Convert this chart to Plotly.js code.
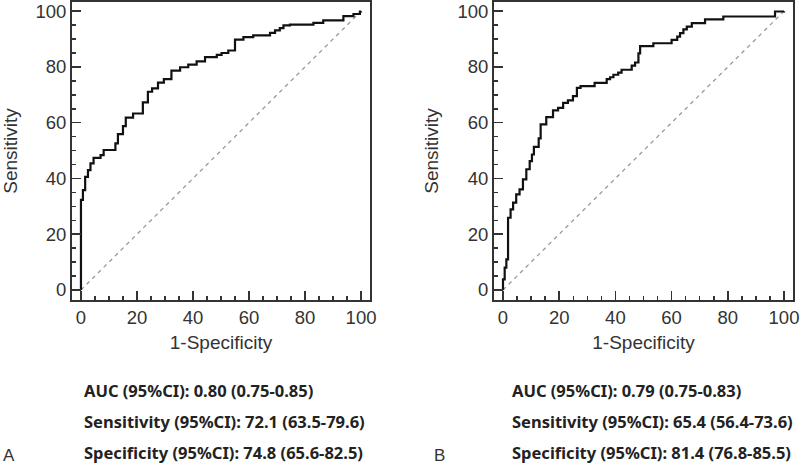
<!DOCTYPE html>
<html>
<head>
<meta charset="utf-8">
<script src="https://cdn.plot.ly/plotly-3.0.1.min.js"></script>
<style>html,body{margin:0;padding:0;background:#fff;}#chart{width:800px;height:467px;}</style>
</head>
<body>
<div id="chart"></div>
<script>
// Panel A ROC curve (1-Specificity, Sensitivity), step corners
const fprA = [0,0,0.7,1.5,2.5,3.4,4.5,7.0,8.1,12.3,13.2,15,16,18.6,22.1,23.9,25.4,27.5,29.6,32.3,35.4,38.3,41.3,44.3,48.5,50.2,52.6,55,58,61.5,67.5,69.3,71,72.3,74.6,83,86.5,93.7,97.3,99.6,100];
const tprA = [0,32.3,35.8,40.6,43,45.4,47.4,48.4,50.2,52.6,55.9,58.8,61.8,63.3,67.3,71.1,72.3,74.4,75.6,78.7,79.9,80.8,82,83.5,84.3,85,85.9,89.8,90.7,91.3,92.2,93.1,93.9,94.9,95.2,95.8,96.7,98.2,99,99.9,100];
// Panel B ROC curve
const fprB = [0,0,0.6,1.2,1.8,2.7,3.6,4.7,5.9,7.1,8.3,9.5,10.3,11,12.7,13.4,15.4,17.8,19.6,21.4,23.1,24.9,26.3,27.6,32.6,36.9,38.1,39.3,41,42.2,45.8,47,48.2,48.8,53.5,60,62,63,64.2,65.4,67.2,71.9,78.4,96.8,100];
const tprB = [0,3.8,8,11,25.9,28.9,31.3,34.3,36.1,39.7,43.3,46.2,48.6,51.3,54.4,59.4,62,64.4,65.3,67.1,68,69.5,72.5,73.1,74.3,75.6,76.3,77.2,78,79,80.5,81.6,84.9,87.5,88.5,89.7,90.9,92.1,93.5,94.5,95.7,97.1,98.1,99.9,100];
// Reference diagonal
const diagX = [0,100];
const diagY = [0,100];
// Tick labels
const tickVals = [0,20,40,60,80,100];
const tickText = ["0","20","40","60","80","100"];
// Panel texts
const panelLabels = ["A","B"];
const statsA = ["AUC (95%CI): 0.80 (0.75-0.85)","Sensitivity (95%CI): 72.1 (63.5-79.6)","Specificity (95%CI): 74.8 (65.6-82.5)"];
const statsB = ["AUC (95%CI): 0.79 (0.75-0.83)","Sensitivity (95%CI): 65.4 (56.4-73.6)","Specificity (95%CI): 81.4 (76.8-85.5)"];

const W = 800, H = 467;
const tickFont = {family: "Liberation Sans, Arial, sans-serif", size: 18.5, color: "#333"};
const titleFont = {family: "Liberation Sans, Arial, sans-serif", size: 19, color: "#333"};

function axis(domain, anchor, isY) {
  return {
    domain: domain, anchor: anchor,
    range: isY ? [-3.6, 103.3] : [-3.2, 103.2],
    tickmode: "array", tickvals: tickVals, ticktext: tickText,
    ticks: "inside", ticklen: 9, tickwidth: 1.5, tickcolor: "#333",
    minor: {dtick: 5, tick0: 0, ticks: "inside", ticklen: 4, tickwidth: 1.5, tickcolor: "#333", showgrid: false},
    showline: true, linewidth: 2, linecolor: "#333", mirror: true,
    showgrid: false, zeroline: false,
    tickfont: tickFont,
    title: {text: isY ? "Sensitivity" : "1-Specificity", font: titleFont, standoff: isY ? 14 : 8},
    fixedrange: true
  };
}

const curveLine = {color: "#111", width: 2.2, shape: "hv"};
const diagLine = {color: "#999", width: 1.3, dash: "4px,4px"};

const data = [
  {x: diagX, y: diagY, xaxis: "x", yaxis: "y", mode: "lines", line: diagLine, hoverinfo: "skip"},
  {x: fprA, y: tprA, xaxis: "x", yaxis: "y", mode: "lines", line: curveLine},
  {x: diagX, y: diagY, xaxis: "x2", yaxis: "y2", mode: "lines", line: diagLine, hoverinfo: "skip"},
  {x: fprB, y: tprB, xaxis: "x2", yaxis: "y2", mode: "lines", line: curveLine}
];

const yDom = [(H - 300) / H, (H - 2) / H];
const layout = {
  width: W, height: H,
  margin: {l: 0, r: 0, t: 0, b: 0},
  paper_bgcolor: "#fff", plot_bgcolor: "#fff",
  showlegend: false,
  xaxis: axis([72 / W, 370 / W], "y", false),
  yaxis: axis(yDom, "x", true),
  xaxis2: axis([494 / W, 793 / W], "y2", false),
  yaxis2: axis(yDom, "x2", true),
  annotations: []
};

const statFont = {family: "Noto Sans, Open Sans, sans-serif", size: 16.5, color: "#222", weight: "bold"};
const rowsY = [390, 421, 452];
function addStats(lines, xPx) {
  lines.forEach((t, i) => {
    layout.annotations.push({
      text: "<b>" + t + "</b>", xref: "paper", yref: "paper",
      x: xPx / W, y: (H - rowsY[i]) / H, xanchor: "left", yanchor: "middle",
      showarrow: false, font: statFont
    });
  });
}
addStats(statsA, 82);
addStats(statsB, 510);
[[panelLabels[0], 1], [panelLabels[1], 432]].forEach(([t, xPx]) => {
  layout.annotations.push({
    text: t, xref: "paper", yref: "paper", x: xPx / W, y: 0,
    xanchor: "left", yanchor: "bottom", showarrow: false,
    font: {family: "Liberation Sans, Arial, sans-serif", size: 17, color: "#333"}
  });
});

Plotly.newPlot("chart", data, layout, {displayModeBar: false, staticPlot: true});
</script>
</body>
</html>
